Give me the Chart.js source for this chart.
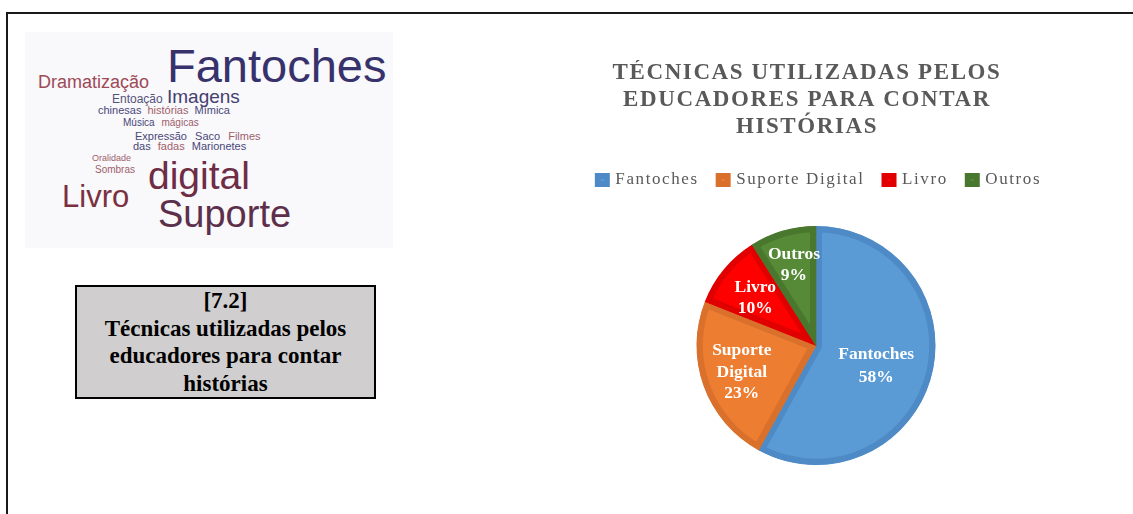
<!DOCTYPE html>
<html><head><meta charset="utf-8">
<script src="https://cdn.jsdelivr.net/npm/chart.js@4"></script>
<style>
html,body{margin:0;padding:0;background:#fff;}
body{width:1133px;height:514px;position:relative;overflow:hidden;font-family:"Liberation Sans",Arial,sans-serif;}
#frame{position:absolute;left:6px;top:12px;width:1140px;height:520px;border-top:2px solid #1a1a1a;border-left:2px solid #1a1a1a;}
#cloud{position:absolute;left:25px;top:32px;width:368px;height:216px;background:#f9f8fb;overflow:hidden;}
#cloud span{position:absolute;line-height:1;white-space:nowrap;}
.n{color:#4a4878}.r{color:#a0606a}
#cloud b{font-weight:normal}
#caption{position:absolute;left:75px;top:285px;width:297px;height:110px;border:2px solid #000;background:#d0cece;font-family:"Liberation Serif","Times New Roman",serif;font-weight:bold;font-size:23px;line-height:27.5px;text-align:center;color:#000;}
#chartbox{position:absolute;left:557px;top:60px;width:500px;height:405px;}
</style></head>
<body>
<div id="frame"></div>
<div id="cloud">
  <span style="left:142px;top:10px;font-size:47px;color:#37326b;">Fantoches</span>
  <span style="left:13px;top:41px;font-size:18px;color:#9d4a56;">Dramatização</span>
  <span style="left:87px;top:61px;font-size:12px;color:#55537a;">Entoação</span>
  <span style="left:142px;top:55px;font-size:19px;color:#45406f;">Imagens</span>
  <span style="left:73px;top:73px;font-size:11px;word-spacing:3px;"><b class="n">chinesas</b> <b class="r">histórias</b> <b class="n">Mímica</b></span>
  <span style="left:98px;top:86px;font-size:10px;word-spacing:4px;"><b class="n">Música</b> <b class="r">mágicas</b></span>
  <span style="left:110px;top:99px;font-size:11px;word-spacing:5px;"><b class="n">Expressão</b> <b class="n">Saco</b> <b class="r">Filmes</b></span>
  <span style="left:108px;top:109px;font-size:11px;word-spacing:4px;"><b class="n">das</b> <b class="r">fadas</b> <b class="n">Marionetes</b></span>
  <span class="r" style="left:67px;top:122px;font-size:9px;">Oralidade</span>
  <span class="r" style="left:70px;top:133px;font-size:10px;">Sombras</span>
  <span style="left:123px;top:124px;font-size:39px;color:#6e2c45;">digital</span>
  <span style="left:37px;top:149px;font-size:31px;color:#7a3040;">Livro</span>
  <span style="left:133px;top:163px;font-size:38px;color:#5c2f4a;">Suporte</span>
</div>
<div id="caption">[7.2]<br>Técnicas utilizadas pelos<br>educadores para contar<br>histórias</div>
<div id="chartbox"><canvas id="c"></canvas></div>
<script>
const categories = ['Fantoches', 'Suporte Digital', 'Livro', 'Outros'];
const percentages = [58, 23, 10, 9];
const sliceLabelLines = [['Fantoches'], ['Suporte', 'Digital'], ['Livro'], ['Outros']];
const titleLines = ['TÉCNICAS UTILIZADAS PELOS', 'EDUCADORES PARA CONTAR', 'HISTÓRIAS'];

const fillColors = ['#5b9bd5', '#ed7d31', '#ff0000', '#568a37'];
const edgeColors = ['#4e8ac6', '#d9712c', '#e00000', '#4a772e'];
const labelRadiusFactor = [0.52, 0.66, 0.66, 0.66];
const labelNudgeY = [5, 0, 3, -5];
const labelLineHeight = [23, 21.5, 21.5, 21.5];

const spacingPlugin = {
  id: 'spacing',
  beforeUpdate(chart) { chart.ctx.letterSpacing = '1.6px'; },
  beforeDraw(chart) { chart.ctx.letterSpacing = '1.6px'; }
};
const legendMargin = {
  id: 'legendMargin',
  beforeInit(chart) {
    const fit = chart.legend.fit;
    chart.legend.fit = function () { fit.bind(chart.legend)(); this.height += 27.5; };
  },
  afterLayout(chart) {
    const a = chart.chartArea;
    a.left += 9; a.right += 9;
    chart.legend.left += 12.5; chart.legend.right += 12.5;
  }
};
const sliceLabels = {
  id: 'sliceLabels',
  afterDatasetsDraw(chart) {
    const ctx = chart.ctx;
    const meta = chart.getDatasetMeta(0);
    ctx.save();
    ctx.letterSpacing = '0px';
    ctx.font = 'bold 17.5px "Liberation Serif", "Times New Roman", serif';
    ctx.fillStyle = '#ffffff';
    ctx.textAlign = 'center';
    ctx.textBaseline = 'middle';
    meta.data.forEach((arc, i) => {
      const p = arc.getProps(['x', 'y', 'startAngle', 'endAngle', 'outerRadius'], true);
      const mid = (p.startAngle + p.endAngle) / 2;
      const r = p.outerRadius * labelRadiusFactor[i];
      const cx = p.x + Math.cos(mid) * r;
      const cy = p.y + Math.sin(mid) * r + labelNudgeY[i];
      const lines = sliceLabelLines[i].concat([percentages[i] + '%']);
      const lh = labelLineHeight[i];
      lines.forEach((t, j) => ctx.fillText(t, cx, cy + (j - (lines.length - 1) / 2) * lh));
    });
    ctx.restore();
  }
};

new Chart(document.getElementById('c'), {
  type: 'pie',
  data: {
    labels: categories,
    datasets: [{
      data: percentages,
      backgroundColor: fillColors,
      borderColor: edgeColors,
      borderWidth: 6,
      borderAlign: 'inner',
      hoverOffset: 0,
      hoverBorderWidth: 6
    }]
  },
  options: {
    responsive: true,
    maintainAspectRatio: false,
    animation: false,
    events: [],
    layout: { padding: 0 },
    plugins: {
      title: {
        display: true,
        text: titleLines,
        color: '#595959',
        font: { family: '"Liberation Serif", "Times New Roman", serif', size: 23, weight: 'bold', lineHeight: 27 / 23 },
        padding: { top: 0, bottom: 10.5 }
      },
      legend: {
        position: 'top',
        labels: {
          color: '#595959',
          font: { family: '"Liberation Serif", "Times New Roman", serif', size: 17 },
          boxWidth: 9,
          boxHeight: 8,
          padding: 20
        }
      },
      tooltip: { enabled: false }
    }
  },
  plugins: [spacingPlugin, legendMargin, sliceLabels]
});
</script>
</body></html>
